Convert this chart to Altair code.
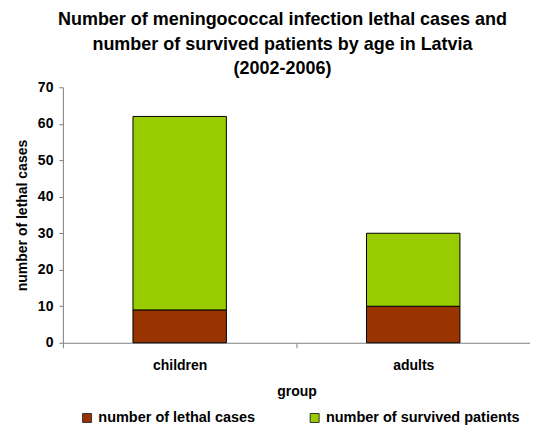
import altair as alt
import pandas as pd

groups = ["children", "adults"]
lethal = [9, 10]
survived = [53, 20]
series_names = ["number of lethal cases", "number of survived patients"]
colors = ["#993300", "#99CC00"]

rows = []
for g, l, s in zip(groups, lethal, survived):
    rows.append({"group": g, "series": series_names[0], "value": l, "order": 0})
    rows.append({"group": g, "series": series_names[1], "value": s, "order": 1})
df = pd.DataFrame(rows)

FONT = "Liberation Sans"

chart = alt.Chart(df).mark_bar(stroke="black", strokeWidth=1,
                               width=alt.RelativeBandSize(0.4)).encode(
    x=alt.X("group:N", sort=groups,
            scale=alt.Scale(paddingInner=0, paddingOuter=0),
            axis=alt.Axis(title="group", labelAngle=0, labelFontSize=14, labelFont=FONT,
                          labelFontWeight="bold", labelColor="black", titleFont=FONT,
                          titleFontSize=14, titleFontWeight="bold", titleColor="black",
                          domainColor="#808080", tickColor="#808080", tickBand="extent",
                          labelPadding=11, titlePadding=12, tickSize=5)),
    y=alt.Y("value:Q", stack="zero",
            scale=alt.Scale(domain=[0, 70]),
            axis=alt.Axis(title="number of lethal cases", values=list(range(0, 71, 10)),
                          grid=False, labelFontSize=14, labelFont=FONT,
                          labelFontWeight="bold", labelColor="black", titleFont=FONT,
                          titleFontSize=14, titleFontWeight="bold", titleColor="black",
                          domainColor="#808080", tickColor="#808080", tickSize=4,
                          labelPadding=6, titlePadding=8)),
    color=alt.Color("series:N", sort=series_names,
                    scale=alt.Scale(domain=series_names, range=colors),
                    legend=alt.Legend(title=None, orient="none", legendX=17, legendY=324,
                                      direction="horizontal",
                                      columns=2, columnPadding=52, symbolType="square",
                                      symbolSize=81, symbolStrokeColor="#333333",
                                      symbolStrokeWidth=1, labelFont=FONT,
                                      labelFontSize=14.5, labelFontWeight="bold",
                                      labelColor="black", labelLimit=400, padding=0)),
    order=alt.Order("order:Q", sort="ascending"),
).properties(
    width=468,
    height=256,
    title=alt.TitleParams(
        text=["Number of meningococcal infection lethal cases and",
              "number of survived patients by age in Latvia",
              "(2002-2006)"],
        font=FONT, fontSize=18, fontWeight="bold", color="black",
        anchor="middle", dx=-14, lineHeight=24.5, offset=2),
    autosize=alt.AutoSizeParams(type="none"),
    padding={"left": 55, "top": 79, "right": 0, "bottom": 86},
).configure_view(stroke=None)

chart.save("out.html", embed_options={"renderer": "svg", "actions": False})
